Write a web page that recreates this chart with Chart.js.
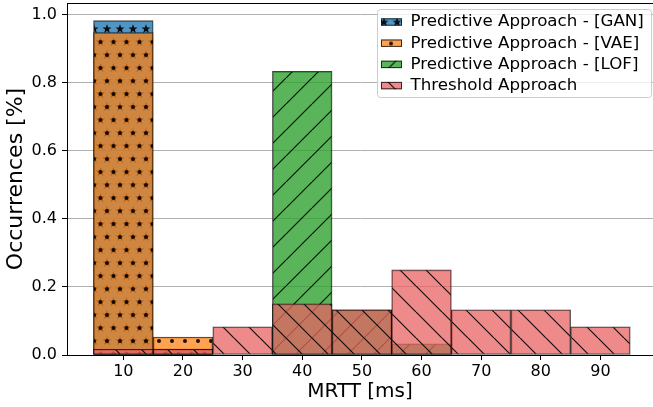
<!DOCTYPE html>
<html lang="en">
<head>
<meta charset="UTF-8">
<title>MRTT histogram</title>
<style>
  * { margin: 0; padding: 0; box-sizing: border-box; }
  body { background: #fff; }
  #chart { display: block; }
</style>
</head>
<body>
<canvas id="chart" width="653" height="407"></canvas>

<script src="https://cdn.jsdelivr.net/npm/chart.js"></script>
<script>
// Histogram data (bin centres in ms, occurrence fractions)
const binCenters = [10, 20, 30, 40, 50, 60, 70, 80, 90];
const ganValues = [0.982, 0.018, 0, 0, 0, 0, 0, 0, 0];
const vaeValues = [0.947, 0.053, 0, 0, 0, 0, 0, 0, 0];
const lofValues = [0, 0, 0, 0.833, 0.133, 0.033, 0, 0, 0];
const thresholdValues = [0.017, 0.017, 0.083, 0.15, 0.133, 0.25, 0.133, 0.133, 0.083];
const seriesLabels = [
    "Predictive Approach - [GAN]",
    "Predictive Approach - [VAE]",
    "Predictive Approach - [LOF]",
    "Threshold Approach"
];
const xTicks = [10, 20, 30, 40, 50, 60, 70, 80, 90];
const yTicks = [0, 0.2, 0.4, 0.6, 0.8, 1.0];

const FONT = "'DejaVu Sans', sans-serif";
const EDGE = "rgba(0,0,0,0.75)";
const HATCH = "rgba(0,0,0,0.9)";

// --- hatch patterns (matplotlib style) ---
const T = 26;
const lattice = [[3, 3], [16, 3], [9.5, 16], [22.5, 16]];

function starPath(g, cx, cy, R, r) {
    g.beginPath();
    for (let i = 0; i < 10; i++) {
        const a = -Math.PI / 2 + i * Math.PI / 5;
        const rr = i % 2 ? r : R;
        g.lineTo(cx + rr * Math.cos(a), cy + rr * Math.sin(a));
    }
    g.closePath();
    g.fill();
}

function makePattern(color, kind) {
    const c = document.createElement("canvas");
    c.width = T; c.height = T;
    const g = c.getContext("2d");
    g.fillStyle = color;
    g.fillRect(0, 0, T, T);
    g.fillStyle = HATCH;
    g.strokeStyle = HATCH;
    g.lineWidth = 1.2;
    if (kind === "/" || kind === "\\") {
        g.beginPath();
        for (let k = -1; k <= 1; k++) {
            if (kind === "/") { g.moveTo(k * T, T); g.lineTo(k * T + T, 0); }
            else { g.moveTo(k * T, 0); g.lineTo(k * T + T, T); }
        }
        g.stroke();
    } else {
        for (const [px, py] of lattice) {
            for (let ox = -T; ox <= T; ox += T) {
                for (let oy = -T; oy <= T; oy += T) {
                    if (kind === "*") starPath(g, px + ox, py + oy, 4.8, 2);
                    else { g.beginPath(); g.arc(px + ox, py + oy, 2, 0, Math.PI * 2); g.fill(); }
                }
            }
        }
    }
    return g.createPattern(c, "repeat");
}

const fills = [
    makePattern("rgba(31,119,180,0.78)", "*"),
    makePattern("rgba(255,127,14,0.72)", "."),
    makePattern("rgba(44,160,44,0.78)", "/"),
    makePattern("rgba(232,99,99,0.75)", "\\")
];
// pattern phase used inside the small legend patches
const patchShift = [[0, 1], [-6, 1], [-2, -9], [0, -7]];

function series(i, values, order) {
    return {
        label: seriesLabels[i],
        data: binCenters.map((x, j) => ({ x: x, y: values[j] || null })),
        backgroundColor: fills[i],
        borderColor: EDGE,
        borderWidth: 1,
        borderSkipped: false,
        grouped: false,
        barPercentage: 1,
        categoryPercentage: 1,
        order: order
    };
}

// top spine + framed legend, drawn like matplotlib
const extras = {
    id: "extras",
    afterDraw(chart) {
        const g = chart.ctx;
        const a = chart.chartArea;
        g.save();
        g.strokeStyle = "#000";
        g.lineWidth = 1;
        g.beginPath();
        g.moveTo(a.left, a.top + 0.5);
        g.lineTo(a.right, a.top + 0.5);
        g.stroke();

        // legend frame
        const fx = 377.5, fy = 9.5, fw = 274, fh = 88, rad = 3;
        g.beginPath();
        g.roundRect(fx, fy, fw, fh, rad);
        g.fillStyle = "rgba(255,255,255,0.8)";
        g.fill();
        g.strokeStyle = "#cccccc";
        g.stroke();

        g.font = "16.7px " + FONT;
        g.textBaseline = "alphabetic";
        seriesLabels.forEach((lab, i) => {
            const cy = 20.3 + i * 21.2;
            const [sx, sy] = patchShift[i];
            g.save();
            g.translate(381 + sx, cy - 2 + sy);
            g.fillStyle = fills[i];
            g.fillRect(-sx, -sy, 21, 7.4);
            g.restore();
            g.strokeStyle = EDGE;
            g.strokeRect(381.5, cy - 1.5, 20, 6.4);
            g.fillStyle = "#000";
            g.fillText(lab, 410.5, cy + 6.1);
        });
        g.restore();
    }
};

new Chart(document.getElementById("chart"), {
    type: "bar",
    data: {
        datasets: [
            series(0, ganValues, 4),
            series(1, vaeValues, 3),
            series(2, lofValues, 2),
            series(3, thresholdValues, 1)
        ]
    },
    options: {
        responsive: false,
        animation: false,
        devicePixelRatio: 1,
        layout: { padding: { top: 3, left: 0, right: 0, bottom: 0 } },
        plugins: {
            legend: { display: false },
            tooltip: { enabled: false }
        },
        scales: {
            x: {
                type: "linear",
                min: 0.55,
                max: 98.82,
                offset: false,
                afterBuildTicks: s => { s.ticks = xTicks.map(v => ({ value: v })); },
                afterFit: s => { s.height = 52; s.paddingLeft = 0; s.paddingRight = 0; },
                ticks: {
                    color: "#000",
                    padding: 2,
                    font: { family: FONT, size: 16 },
                    callback: v => String(v)
                },
                grid: {
                    offset: false,
                    drawOnChartArea: false,
                    drawTicks: true,
                    tickLength: 5,
                    tickColor: "#000",
                    tickWidth: 1
                },
                border: { display: true, color: "#000", width: 1 },
                title: {
                    display: true,
                    text: "MRTT [ms]",
                    color: "#000",
                    font: { family: FONT, size: 20, lineHeight: 1.2 },
                    padding: { top: 0, bottom: 3 }
                }
            },
            y: {
                type: "linear",
                min: 0,
                max: 1.034,
                afterBuildTicks: s => { s.ticks = yTicks.map(v => ({ value: v })); },
                afterFit: s => { s.width = 67; s.paddingTop = 0; s.paddingBottom = 0; },
                ticks: {
                    color: "#000",
                    padding: 5,
                    font: { family: FONT, size: 16 },
                    callback: v => v.toFixed(1)
                },
                grid: {
                    color: "#b0b0b0",
                    lineWidth: 1,
                    tickLength: 5,
                    tickColor: "#000",
                    tickWidth: 1
                },
                border: { display: true, color: "#000", width: 1 },
                title: {
                    display: true,
                    text: "Occurrences [%]",
                    color: "#000",
                    font: { family: FONT, size: 22, lineHeight: 1.2 },
                    padding: { top: 3.5, bottom: 0 }
                }
            }
        }
    },
    plugins: [extras]
});
</script>
</body>
</html>
